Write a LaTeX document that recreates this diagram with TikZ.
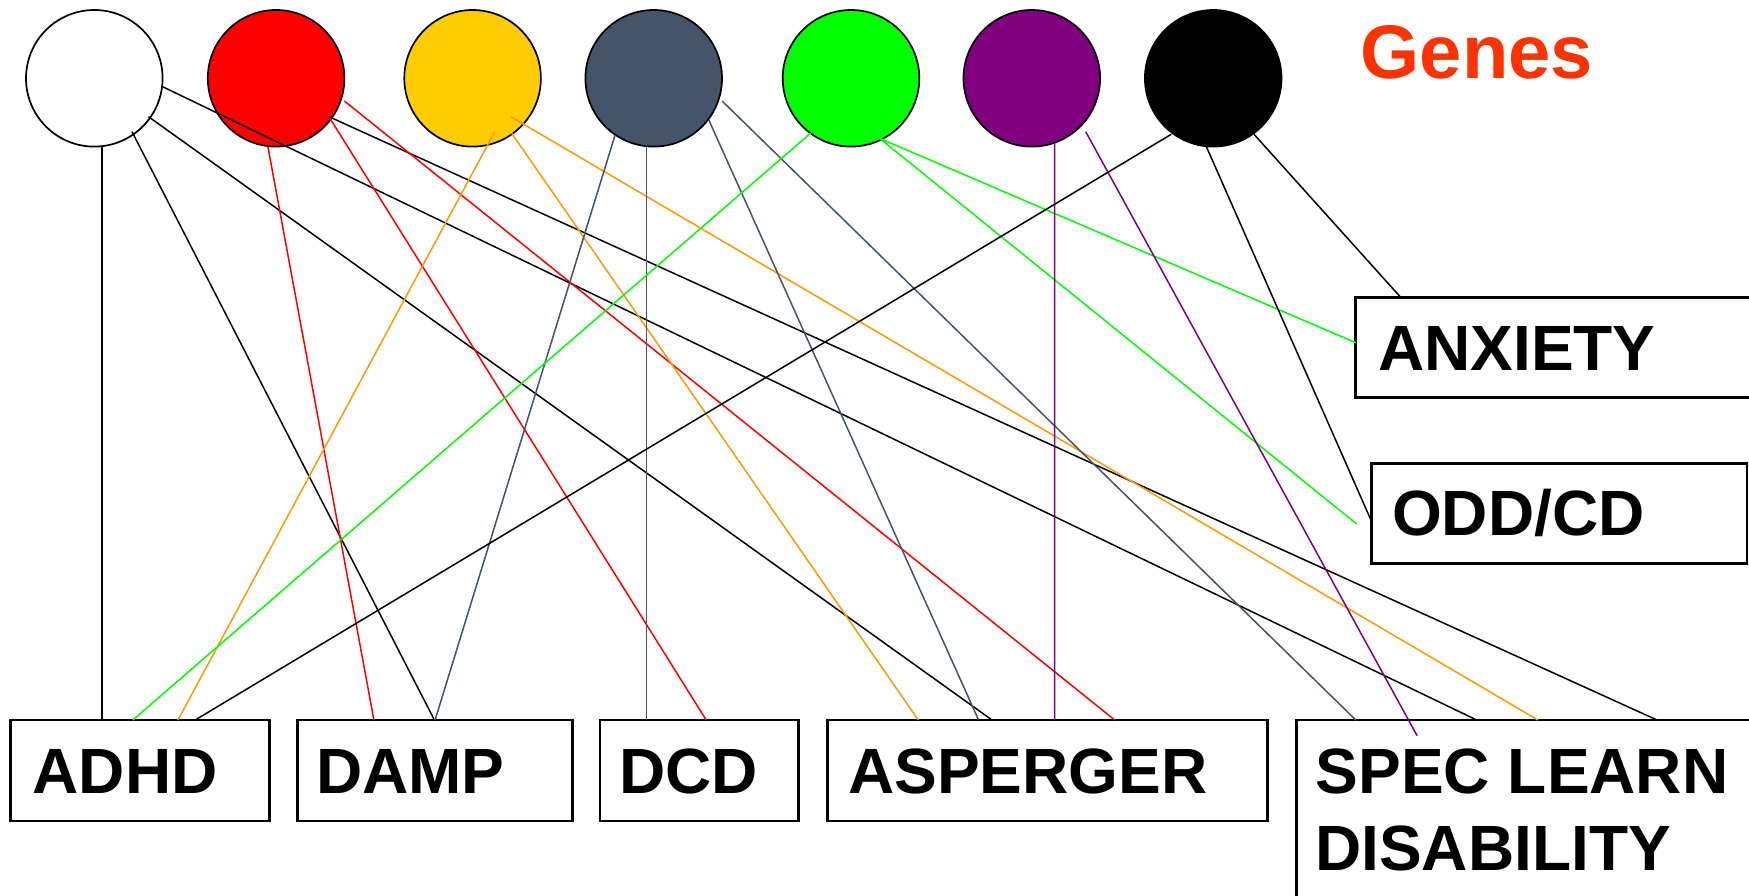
\documentclass[tikz,border=0pt]{standalone}
\usepackage{fontspec}
\setmainfont{Liberation Sans}
\usetikzlibrary{calc}
\definecolor{cRed}{HTML}{FF0000}
\definecolor{cYel}{HTML}{FFCC00}
\definecolor{cSlate}{HTML}{44546A}
\definecolor{cGreen}{HTML}{00FF00}
\definecolor{cPurple}{HTML}{800080}
\definecolor{cOrange}{HTML}{FF9900}
\definecolor{cGenes}{HTML}{FF3300}
\tikzset{
  gene/.style={circle, draw=black, line width=1.7, minimum size=136.6, inner sep=0, outer sep=0},
  disbox/.style={rectangle, draw=black, line width=2.8, inner sep=0, outer sep=0, anchor=north west},
  lbl/.style={anchor=base west, inner sep=0, font=\bfseries\fontsize{64}{76.5}\selectfont},
  link/.style={line width=1.5},
}
\begin{document}
\begin{tikzpicture}[x=1pt,y=-1pt]
\useasboundingbox (0,0) rectangle (1749,895);
\clip (0,0) rectangle (1749,895);
\fill[white] (0,0) rectangle (1749,895);
% genes
\node[gene, fill=white]   (W) at (94.3,78.3) {};
\node[gene, fill=cRed]    (R) at (276.1,78.3) {};
\node[gene, fill=cYel]    (Y) at (472.6,78.3) {};
\node[gene, fill=cSlate]  (S) at (653.7,78.3) {};
\node[gene, fill=cGreen]  (G) at (851,78.3) {};
\node[gene, fill=cPurple] (P) at (1031.8,78.3) {};
\node[gene, fill=black]   (K) at (1213.2,78.3) {};
\node[anchor=base west, inner sep=0, text=cGenes, font=\bfseries\fontsize{76}{90}\selectfont] (genes) at (1360.5,78.5) {Genes};
% boxes
\node[disbox, minimum width=259.5, minimum height=101] (adhd) at (10.3,720) {};
\node[disbox, minimum width=274.4, minimum height=101] (damp) at (297.7,720) {};
\node[disbox, minimum width=198.2, minimum height=101] (dcd) at (600,720) {};
\node[disbox, minimum width=439.5, minimum height=101] (asp) at (827.7,720) {};
\node[disbox, minimum width=600, minimum height=300] (spec) at (1296.5,720) {};
\node[disbox, minimum width=500, minimum height=100] (anx) at (1355.8,297.6) {};
\node[disbox, minimum width=375.4, minimum height=100] (odd) at (1371.6,463.1) {};
% labels
\node[lbl] (adhdt) at (32.5,793.3) {ADHD};
\node[lbl] (dampt) at (315.8,793.3) {DAMP};
\node[lbl] (dcdt) at (618.8,793.3) {DCD};
\node[lbl] (aspt) at (848,793.3) {ASPERGER};
\node[lbl] (spect) at (1315.7,793.3) {SPEC LEARN};
\node[lbl] (spect2) at (1315,870) {DISABILITY};
\node[lbl] (anxt) at (1378,370.2) {ANXIETY};
\node[lbl] (oddt) at (1391.8,535.7) {ODD/CD};
% links
\draw[link, black] ($(W)+(7.5,68.4)$) -- ($(adhd.north west)+(91.5,0)$);
\draw[link, black] ($(W)+(37.7,53.4)$) -- ($(damp.north west)+(136.7,0)$);
\draw[link, black] ($(W)+(54.2,38.4)$) -- ($(asp.north west)+(164.3,0)$);
\draw[link, black] ($(W)+(68.3,8.4)$) -- ($(spec.north west)+(180.1,0)$);
\draw[link, black] ($(R)+(52.9,38.4)$) -- ($(spec.north west)+(360.5,0)$);
\draw[link, cRed] ($(R)+(-8.2,68.4)$) -- ($(damp.north west)+(76.2,0)$);
\draw[link, cRed] ($(R)+(53.8,40)$) -- ($(dcd.north west)+(106.2,0)$);
\draw[link, cRed] ($(R)+(68.3,22.7)$) -- ($(asp.north west)+(287,0)$);
\draw[link, cOrange] ($(Y)+(22.2,53.4)$) -- ($(adhd.north west)+(167.7,0)$);
\draw[link, cOrange] ($(Y)+(39.1,55)$) -- ($(asp.north west)+(90.6,0)$);
\draw[link, cOrange] ($(Y)+(38.3,38.4)$) -- ($(spec.north west)+(241.4,0)$);
\draw[link, cSlate] ($(S)+(-38.6,56.7)$) -- ($(damp.north west)+(137.4,0)$);
\draw[link, cSlate] ($(S)+(-7.2,68.4)$) -- ($(dcd.north west)+(46.5,0)$);
\draw[link, cSlate] ($(S)+(55.1,41.7)$) -- ($(asp.north west)+(150.9,0)$);
\draw[link, cSlate] ($(S)+(68.4,22.7)$) -- ($(spec.north west)+(59.3,0)$);
\draw[link, cGreen] ($(G)+(-40.6,55)$) -- ($(adhd.north west)+(122.5,0)$);
\draw[link, cGreen] ($(G)+(28.6,60)$) -- ($(anx.north west)+(0,45.1)$);
\draw[link, cGreen] ($(G)+(28.6,60)$) -- ($(odd.north west)+(-15.1,60.8)$);
\draw[link, cPurple] ($(P)+(22.8,65)$) -- ($(asp.north west)+(226.9,0)$);
\draw[link, cPurple] ($(P)+(53.9,53.4)$) -- ($(spec.north west)+(120.6,15.7)$);
\draw[link, black] ($(K)+(-42,56)$) -- ($(adhd.north west)+(184.9,0)$);
\draw[link, black] ($(K)+(-6.8,68.4)$) -- ($(odd.north west)+(-0.7,56.9)$);
\draw[link, black] ($(K)+(40.8,56)$) -- ($(anx.north west)+(45.1,0)$);
\end{tikzpicture}
\end{document}
